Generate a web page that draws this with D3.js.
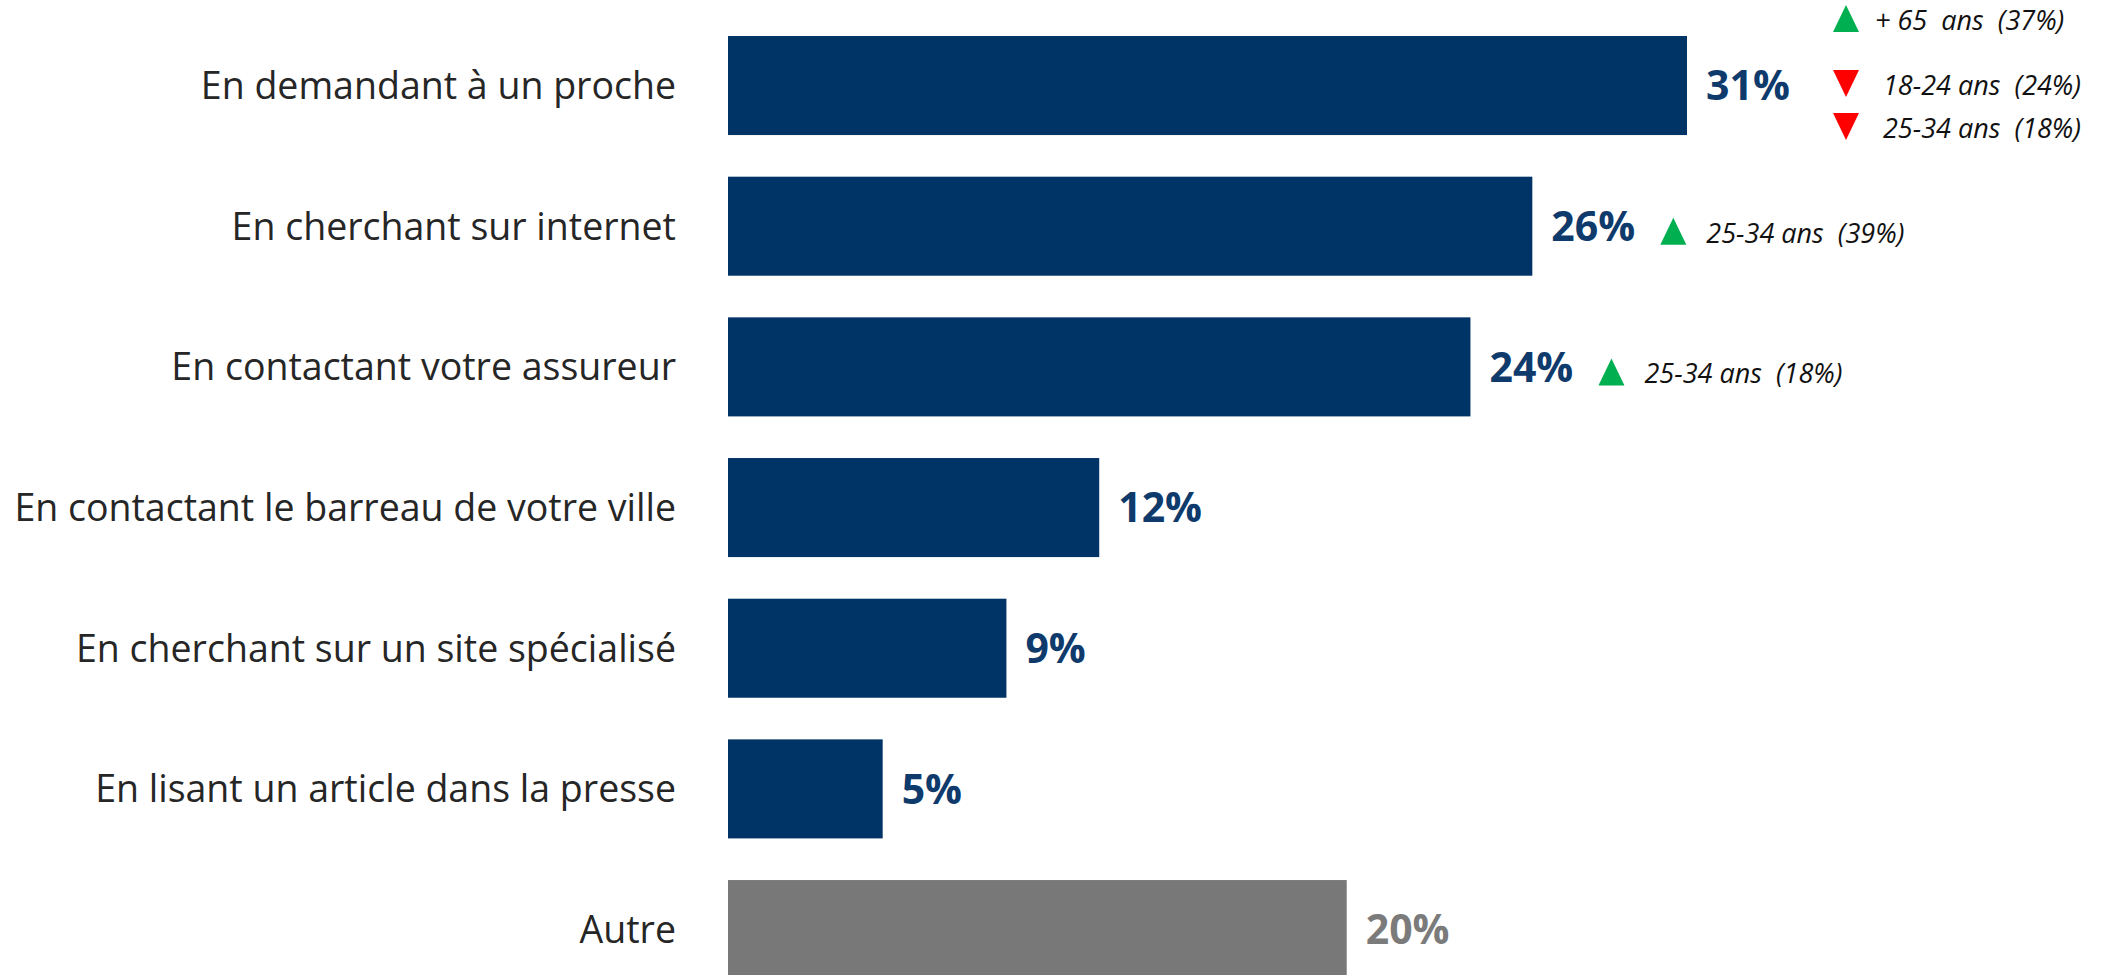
<!DOCTYPE html>
<html>
<head>
<meta charset="utf-8">
<script src="https://cdn.jsdelivr.net/npm/d3@7"></script>
<style>
	body { margin: 0; background: #fff; }
	svg { display: block; }
	text { white-space: pre; }
</style>
</head>
<body>
<svg class="chart"></svg>
<script>

// data
var categories = [
	'En demandant à un proche',
	'En cherchant sur internet',
	'En contactant votre assureur',
	'En contactant le barreau de votre ville',
	'En cherchant sur un site spécialisé',
	'En lisant un article dans la presse',
	'Autre'
];
var values = [31, 26, 24, 12, 9, 5, 20];

// significant differences by age group (up = above average, down = below)
var annotCategories = ['En demandant à un proche', 'En demandant à un proche', 'En demandant à un proche', 'En cherchant sur internet', 'En contactant votre assureur'];
var annotDirections = ['up', 'down', 'down', 'up', 'up'];
var annotLabels = ['+ 65  ans  (37%)', '18-24 ans  (24%)', '25-34 ans  (18%)', '25-34 ans  (39%)', '25-34 ans  (18%)'];


var config = {
	width: 2101,
	height: 975,
	left: 728,
	barColor: '#003366',
	otherColor: '#787878',
	font: "'Open Sans', sans-serif"
};

var data = categories.map((c, i) => ({cat: c, val: values[i], other: c === 'Autre'}));

var annots = annotCategories.map((c, i) => ({cat: c, dir: annotDirections[i], label: annotLabels[i]}));

var svg = d3.select('.chart')
	.attr('width', config.width)
	.attr('height', config.height)
	.style('font-family', config.font);

var xScale = d3.scaleLinear()
	.domain([0, d3.max(values)])
	.range([config.left, 1687]);

var yScale = d3.scaleBand()
	.domain(categories)
	.range([15.2, 999.9])
	.paddingInner(0.296)
	.paddingOuter(0.148);

var bw = yScale.bandwidth();

var rows = svg.selectAll('g.row')
	.data(data)
	.enter()
	.append('g')
	.attr('class', 'row')
	.attr('transform', d => 'translate(0,' + yScale(d.cat) + ')');

rows.append('rect')
	.attr('x', xScale(0))
	.attr('y', 0)
	.attr('width', d => xScale(d.val) - xScale(0))
	.attr('height', bw)
	.attr('fill', d => d.other ? config.otherColor : config.barColor);

// category labels
rows.append('text')
	.text(d => d.cat)
	.attr('x', 676)
	.attr('y', bw / 2)
	.attr('dy', '0.36em')
	.attr('text-anchor', 'end')
	.attr('font-size', 37.5)
	.attr('fill', '#262626');

// value labels
rows.append('text')
	.text(d => d.val + '%')
	.attr('x', d => xScale(d.val) + 19)
	.attr('y', bw / 2)
	.attr('dy', '0.36em')
	.attr('font-size', 41)
	.attr('font-weight', 'bold')
	.attr('fill', d => d.other ? '#7b7b7b' : '#0e3a6c');

// annotations
var stackOffsets = [-67, -2, 41];
var singleOffset = 5;

var grouped = d3.group(annots, d => d.cat);

grouped.forEach(function (list, cat) {
	var val = values[categories.indexOf(cat)];
	var cy = yScale(cat) + bw / 2;
	var tx = xScale(val) + (list.length > 1 ? 146 : 128) + 13;

	list.forEach(function (a, i) {
		var yc = cy + (list.length > 1 ? stackOffsets[i] : singleOffset);
		var hw = 13, hh = 13.5;
		var pts = a.dir === 'up'
			? [[tx - hw, yc + hh], [tx + hw, yc + hh], [tx, yc - hh]]
			: [[tx - hw, yc - hh], [tx + hw, yc - hh], [tx, yc + hh]];

		svg.append('path')
			.attr('d', d3.line()(pts) + 'Z')
			.attr('fill', a.dir === 'up' ? '#00b050' : '#ff0000');

		svg.append('text')
			.text(a.label)
			.attr('x', tx + (list.length > 1 ? (i === 0 ? 29 : 37) : 33))
			.attr('y', yc)
			.attr('dy', '0.42em')
			.attr('font-size', 27)
			.attr('font-style', 'italic')
			.attr('fill', '#111');
	});
});

</script>
</body>
</html>
